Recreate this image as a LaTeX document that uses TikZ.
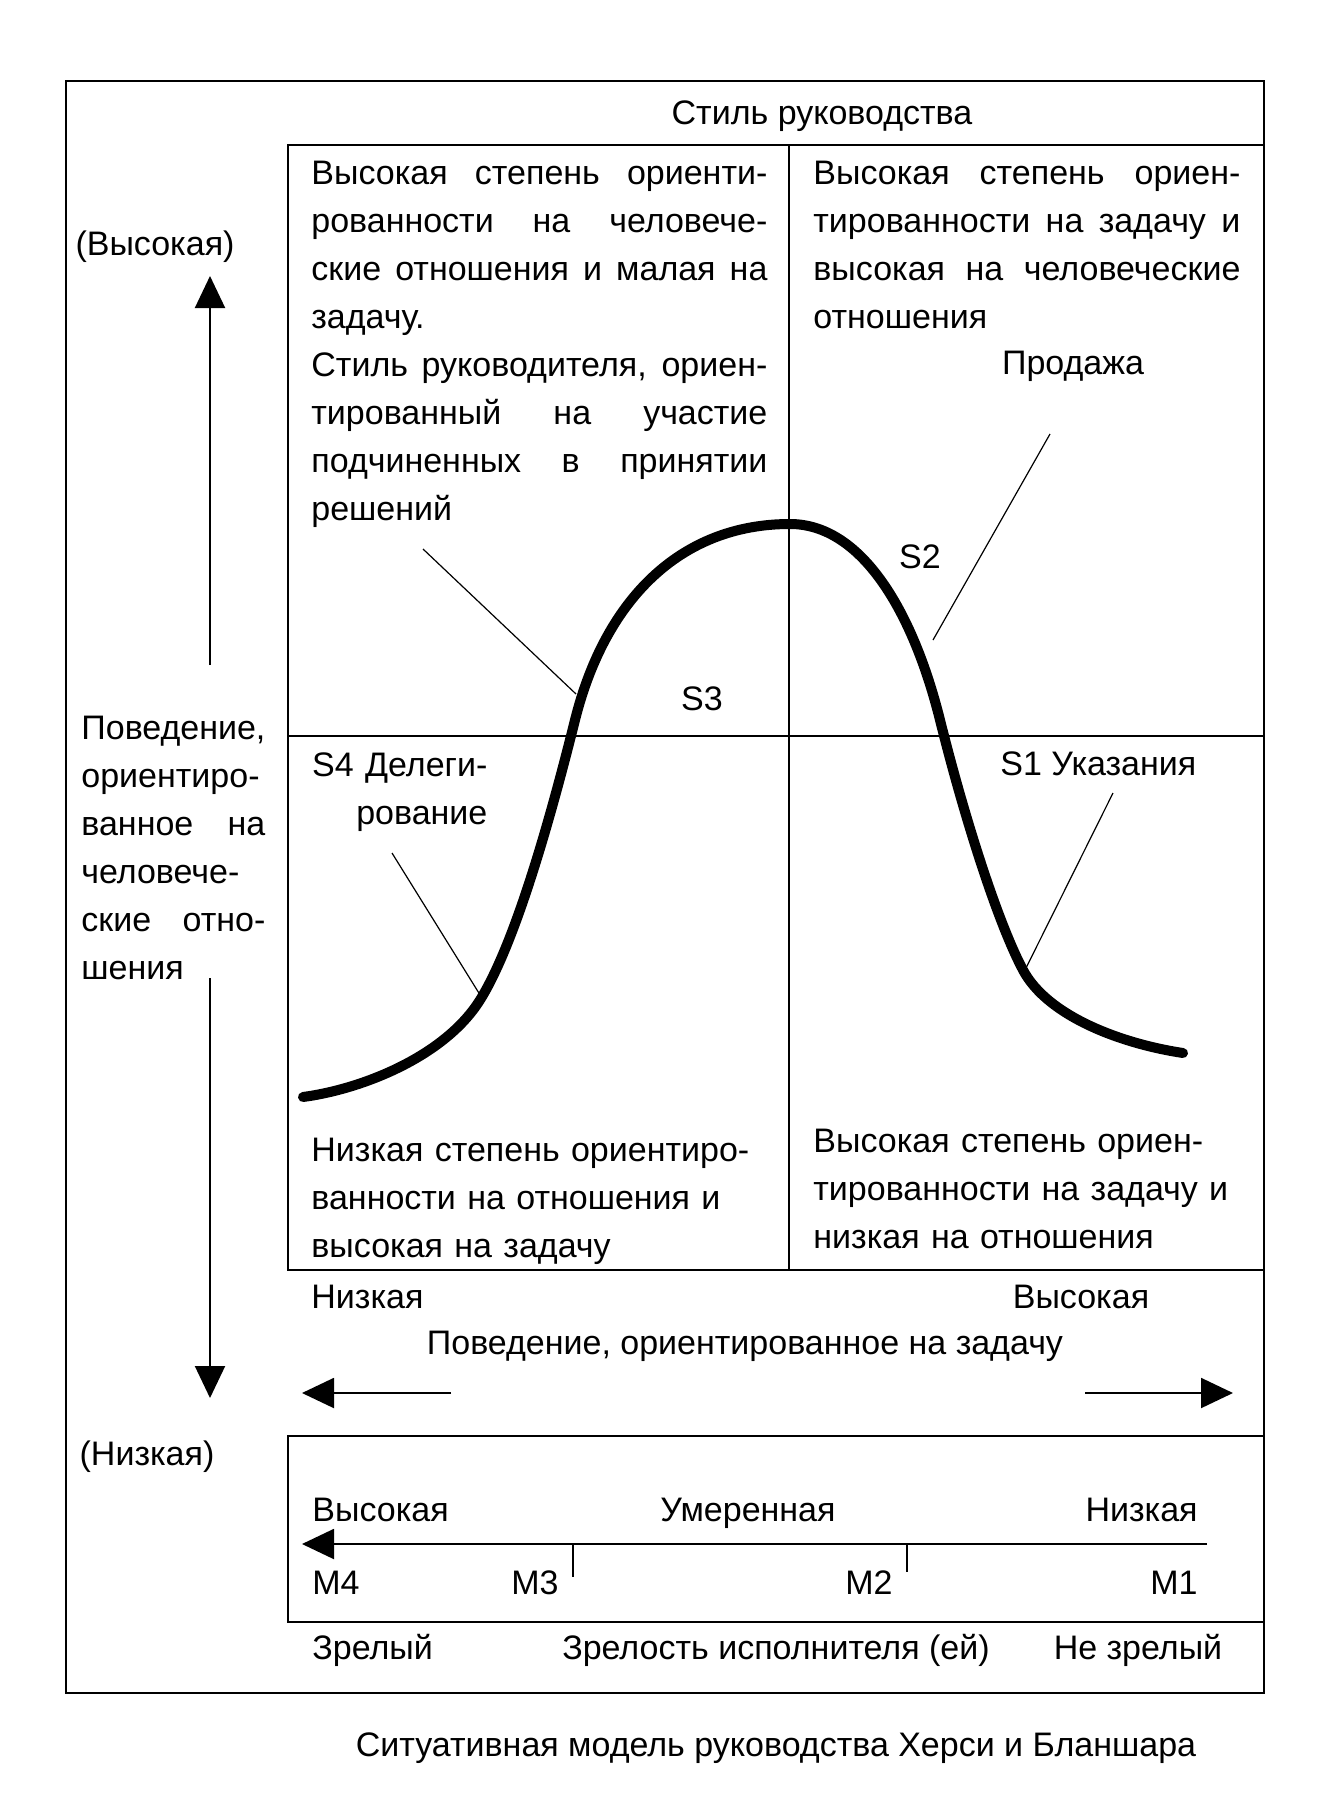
\documentclass[tikz,border=0pt]{standalone}
\usepackage{fontspec}
\setmainfont{Liberation Sans}
\usetikzlibrary{arrows.meta}
\newcommand{\jline}[2]{\makebox[#1][s]{\spaceskip=.25em plus 1fil\relax #2}}

\begin{document}
\begin{tikzpicture}[x=0.5pt, y=-0.5pt,
      txt/.style={font=\fontsize{17}{24}\selectfont, inner sep=0pt},
      blk/.style={txt, text width=#1, align=left, anchor=base west},
      arr/.style={-{Triangle[length=16pt, width=15pt]}, line width=1pt},
      lead/.style={line width=0.6pt},
      frm/.style={line width=1pt},
      thin/.style={line width=0.8pt},
      curve/.style={line width=5pt, line cap=round, line join=round}]
    \fill[white] (0,0) rectangle (1333,1804);
    \draw[frm] (66,81) rectangle (1264,1693);
    \draw[frm] (288,145) rectangle (1264,1270);
    \draw[thin] (288,736) -- (1264,736);
    \draw[thin] (789,145) -- (789,1270);
    \draw[frm] (288,1436) rectangle (1264,1622);

    \node[txt, anchor=base] (title) at (822,124) {Стиль руководства};
    \node[blk=228pt] (hr) at (311,184) {\jline{228pt}{Высокая степень ориенти-}\\
      \jline{228pt}{рованности на человече-}\\
      \jline{228pt}{ские отношения и малая на}\\
      задачу.\\
      \jline{228pt}{Стиль руководителя, ориен-}\\
      \jline{228pt}{тированный на участие}\\
      \jline{228pt}{подчиненных в принятии}\\
      решений};
    \node[blk=213.5pt] (ht) at (813,184) {\jline{213.5pt}{Высокая степень ориен-}\\
      \jline{213.5pt}{тированности на задачу и}\\
      \jline{213.5pt}{высокая на человеческие}\\
      отношения};
    \node[txt, anchor=base] (sell) at (1073,374) {Продажа};
    \node[txt, anchor=base] (s2) at (920,568) {S2};
    \node[txt, anchor=base] (s3) at (702,710) {S3};
    \node[txt, text width=88pt, align=right, anchor=base west] (s4) at (311,776) {S4 Делеги-\\рование};
    \node[txt, anchor=base west] (s1) at (1000,775) {S1 Указания};
    \node[blk=230pt] (lt) at (311,1161) {Низкая степень ориентиро-\\ванности на отношения и\\высокая на задачу};
    \node[blk=225pt] (lr) at (813,1152) {Высокая степень ориен-\\тированности на задачу и\\низкая на отношения};

    \node[blk=92pt] (ybeh) at (81,739) {Поведение,\\ориентиро-\\\jline{92pt}{ванное на}\\человече-\\\jline{92pt}{ские отно-}\\шения};
    \node[txt] (yhigh) at (155,247) {(Высокая)};
    \node[txt] (ylow) at (147,1457) {(Низкая)};

    \node[txt, anchor=base west] (xlow) at (311,1308) {Низкая};
    \node[txt, anchor=base] (xhigh) at (1081,1308) {Высокая};
    \node[txt, anchor=base] (xbeh) at (745,1354) {Поведение, ориентированное на задачу};

    \node[txt, anchor=base west] (mhigh) at (312,1521) {Высокая};
    \node[txt, anchor=base] (mmid) at (748,1521) {Умеренная};
    \node[txt, anchor=base east] (mlow) at (1198,1521) {Низкая};
    \node[txt, anchor=base west] (m4) at (312,1594) {M4};
    \node[txt, anchor=base east] (m3) at (559,1594) {M3};
    \node[txt, anchor=base east] (m2) at (893,1594) {M2};
    \node[txt, anchor=base east] (m1) at (1198,1594) {M1};
    \node[txt, anchor=base west] (mature) at (312,1659) {Зрелый};
    \node[txt, anchor=base] (maturity) at (776,1659) {Зрелость исполнителя (ей)};
    \node[txt, anchor=base] (immature) at (1138,1659) {Не зрелый};
    \node[txt, anchor=base] (caption) at (776,1756) {Ситуативная модель руководства Херси и Бланшара};

    \coordinate (yupfrom) at (210,665);
    \coordinate (yupto) at (210,276);
    \coordinate (ydnfrom) at (210,978);
    \coordinate (ydnto) at (210,1398);
    \coordinate (xlfrom) at (451,1393);
    \coordinate (xlto) at (302,1393);
    \coordinate (xrfrom) at (1085,1393);
    \coordinate (xrto) at (1233,1393);
    \coordinate (mfrom) at (1207,1544);
    \coordinate (mto) at (302,1544);
    \draw[arr] (yupfrom) -- (yupto);
    \draw[arr] (ydnfrom) -- (ydnto);
    \draw[arr] (xlfrom) -- (xlto);
    \draw[arr] (xrfrom) -- (xrto);
    \draw[arr] (mfrom) -- (mto);
    \foreach \x/\y in {573/1577, 907/1572}
      \draw[thin] (\x,1544) -- (\x,\y);

    \draw[curve] (303,1097) .. controls (363,1089) and (445,1056) .. (480,1000)
      .. controls (515,944) and (550,820) .. (575,720)
      .. controls (605,600) and (680,524) .. (790,524)
      .. controls (860,524) and (912,608) .. (940,720)
      .. controls (965,820) and (998,923) .. (1023,970)
      .. controls (1048,1017) and (1123,1044) .. (1183,1053);

    \coordinate (hrlead) at (423,549);
    \coordinate (hrtip) at (576,694);
    \coordinate (selllead) at (1050,434);
    \coordinate (selltip) at (933,640);
    \coordinate (s4lead) at (392,853);
    \coordinate (s4tip) at (482,998);
    \coordinate (s1lead) at (1113,793);
    \coordinate (s1tip) at (1025,970);
    \draw[lead] (hrlead) -- (hrtip);
    \draw[lead] (selllead) -- (selltip);
    \draw[lead] (s4lead) -- (s4tip);
    \draw[lead] (s1lead) -- (s1tip);
  \end{tikzpicture}
\end{document}
